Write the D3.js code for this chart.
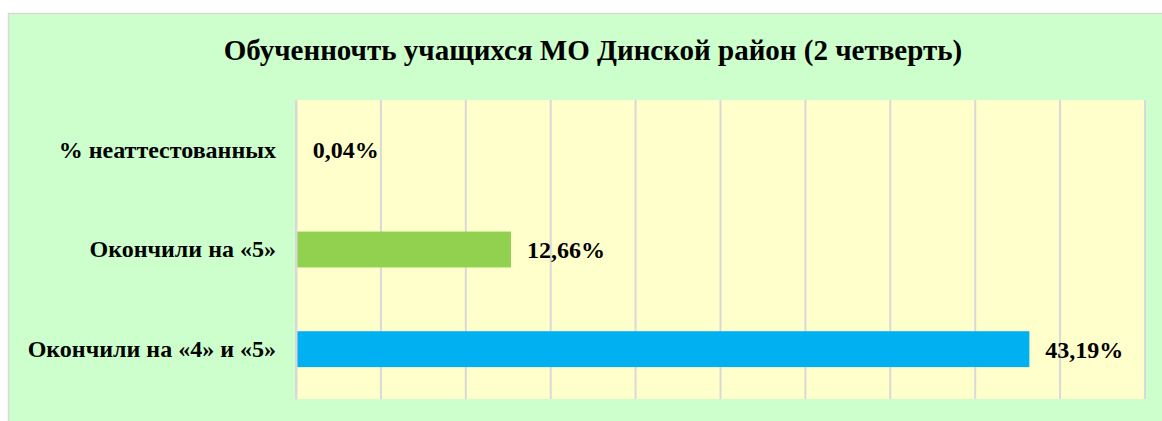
<!DOCTYPE html>
<html>
<head>
<meta charset="utf-8">
<script src="https://cdn.jsdelivr.net/npm/d3@7"></script>
<style>
  html, body { margin: 0; padding: 0; background: #ffffff; }
  svg { display: block; }
</style>
</head>
<body>
<div id="chart"></div>
<script>
// chart data
const categories = ['% неаттестованных', 'Окончили на «5»', 'Окончили на «4» и «5»'];
const values = [0.04, 12.66, 43.19];
const valueLabels = ['0,04%', '12,66%', '43,19%'];
const barColors = ['#00b0f0', '#92d050', '#00b0f0'];
const titleText = 'Обученночть учащихся МО Динской район (2 четверть)';

function createBarChart(containerId)
{
    const width = 1162;
    const height = 421;
    const plot = { left: 296, right: 1145, top: 100, bottom: 399 };
    const font = '"Liberation Serif", "Times New Roman", serif';

    const svg = d3.select(containerId)
        .append('svg')
        .attr('width', width)
        .attr('height', height);

    // outer chart area
    svg.append('rect')
        .attr('x', 8.5)
        .attr('y', 13.5)
        .attr('width', width)
        .attr('height', height)
        .attr('fill', '#ccffcc')
        .attr('stroke', '#d9d9d9')
        .attr('stroke-width', 1.5);

    // plot area
    svg.append('rect')
        .attr('x', plot.left)
        .attr('y', plot.top)
        .attr('width', plot.right - plot.left)
        .attr('height', plot.bottom - plot.top)
        .attr('fill', '#ffffcc');

    // Create scales
    const xScale = d3.scaleLinear()
        .domain([0, 50])
        .range([plot.left, plot.right]);

    const yScale = d3.scaleBand()
        .domain(categories)
        .range([plot.top, plot.bottom])
        .paddingInner(0.64)
        .paddingOuter(0.32);

    // vertical grid lines
    svg.append('g')
        .selectAll('line')
        .data(xScale.ticks(10))
        .enter()
        .append('line')
        .attr('x1', d => xScale(d))
        .attr('x2', d => xScale(d))
        .attr('y1', plot.top)
        .attr('y2', plot.bottom)
        .attr('stroke', '#d9d9d9')
        .attr('stroke-width', 2);

    // bars
    svg.append('g')
        .selectAll('rect')
        .data(values)
        .enter()
        .append('rect')
        .attr('x', xScale(0))
        .attr('y', (d, i) => yScale(categories[i]))
        .attr('width', d => xScale(d) - xScale(0))
        .attr('height', yScale.bandwidth())
        .attr('fill', (d, i) => barColors[i]);

    // value labels
    svg.append('g')
        .selectAll('text')
        .data(values)
        .enter()
        .append('text')
        .attr('x', d => xScale(d) + 16)
        .attr('y', (d, i) => yScale(categories[i]) + yScale.bandwidth() / 2)
        .attr('dy', '0.35em')
        .style('font-family', font)
        .style('font-weight', 'bold')
        .style('font-size', '24px')
        .text((d, i) => valueLabels[i]);

    // category axis
    const yAxis = d3.axisLeft(yScale).tickSize(0).tickPadding(20);
    const axisG = svg.append('g')
        .attr('transform', `translate(${plot.left}, 0)`)
        .call(yAxis);
    axisG.select('.domain')
        .attr('stroke', '#d9d9d9')
        .attr('stroke-width', 2);
    axisG.selectAll('text')
        .style('font-family', font)
        .style('font-weight', 'bold')
        .style('font-size', '24px')
        .attr('fill', '#000');

    // title
    svg.append('text')
        .attr('x', 593)
        .attr('y', 60)
        .style('text-anchor', 'middle')
        .style('font-family', font)
        .style('font-weight', 'bold')
        .style('font-size', '29px')
        .text(titleText);
}

createBarChart('#chart');
</script>
</body>
</html>
